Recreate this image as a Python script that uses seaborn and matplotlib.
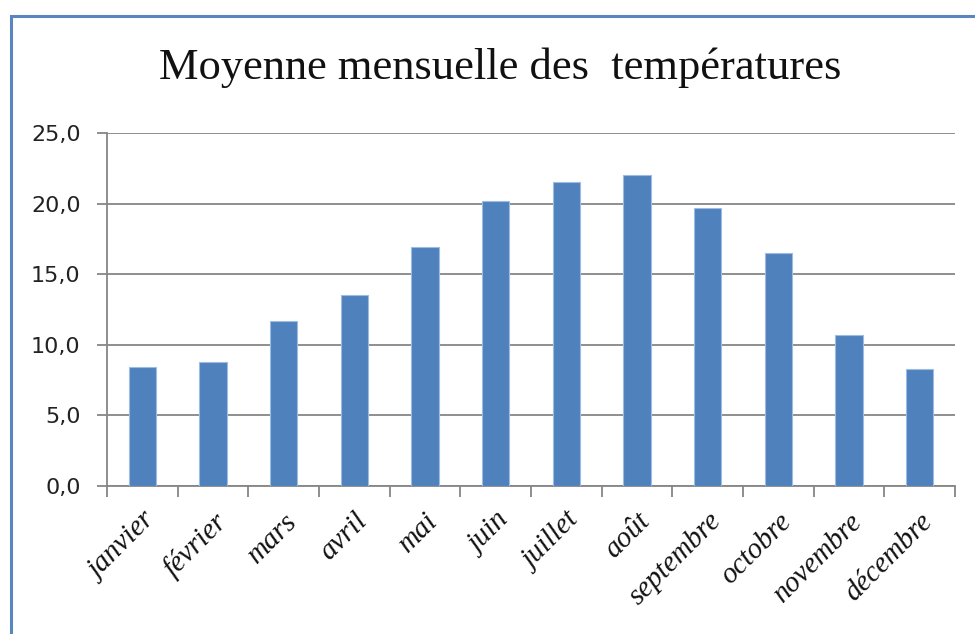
import matplotlib
matplotlib.use('Agg')
import numpy as np
import pandas as pd
import seaborn as sns
import matplotlib.pyplot as plt
from matplotlib.patches import Rectangle
from matplotlib.ticker import FuncFormatter, FixedLocator

# Données
mois = ['janvier', 'février', 'mars', 'avril', 'mai', 'juin', 'juillet',
        'août', 'septembre', 'octobre', 'novembre', 'décembre']
temperatures = [8.4, 8.8, 11.7, 13.5, 16.9, 20.2, 21.5, 22.0, 19.7, 16.5, 10.7, 8.3]
titre = 'Moyenne mensuelle des  températures'

df = pd.DataFrame({'Mois': mois, 'Température': temperatures})

sns.set_style('white')
plt.rcParams['font.family'] = ['DejaVu Sans']

W, H = 975, 634
fig = plt.figure(figsize=(W / 100, H / 100), dpi=100)
ax = fig.add_axes([107 / W, 1 - 486 / H, (955 - 107) / W, (486 - 133) / H])

gris = '#868686'
sns.barplot(data=df, x='Mois', y='Température', color='#4F81BD', width=0.385,
            edgecolor='#9DBCE3', linewidth=0.8, saturation=1, ax=ax, zorder=3)

ax.set_ylim(0, 25)
ax.set_xlim(-0.5, len(mois) - 0.5)
ax.set_yticks([0, 5, 10, 15, 20, 25])
ax.yaxis.set_major_formatter(FuncFormatter(lambda v, p: f'{v:.1f}'.replace('.', ',')))
ax.grid(axis='y', color=gris, linewidth=1.3, zorder=0)
ax.set_axisbelow(True)

for s in ['top', 'right']:
    ax.spines[s].set_visible(False)
for s in ['left', 'bottom']:
    ax.spines[s].set_color(gris)
    ax.spines[s].set_linewidth(1.3)

ax.tick_params(axis='y', left=True, length=7, width=1.3, color=gris,
               labelsize=16, labelcolor='#222222', pad=12)
ax.tick_params(axis='x', which='major', length=0, pad=16)
ax.xaxis.set_minor_locator(FixedLocator(np.arange(-0.5, len(mois), 1.0)))
ax.tick_params(axis='x', which='minor', bottom=True, length=8, width=1.3, color=gris)

ax.set_xticks(range(len(mois)))
ax.set_xticklabels(mois, rotation=45, ha='right', rotation_mode='anchor',
                   family='Liberation Serif', style='italic', fontsize=21, color='#111111')
ax.set_xlabel('')
ax.set_ylabel('')

fig.text(500 / W, 1 - 68 / H, titre, ha='center', va='center',
         family='Liberation Serif', fontsize=32, color='#111111')

# cadre du graphique
fig.patches.append(Rectangle((11 / W, -0.1), 1.2, 1 - 16 / H + 0.1,
                             transform=fig.transFigure, fill=False,
                             edgecolor='#5A86C0', linewidth=2.2))

fig.savefig('out.png', dpi=100, facecolor='white')
